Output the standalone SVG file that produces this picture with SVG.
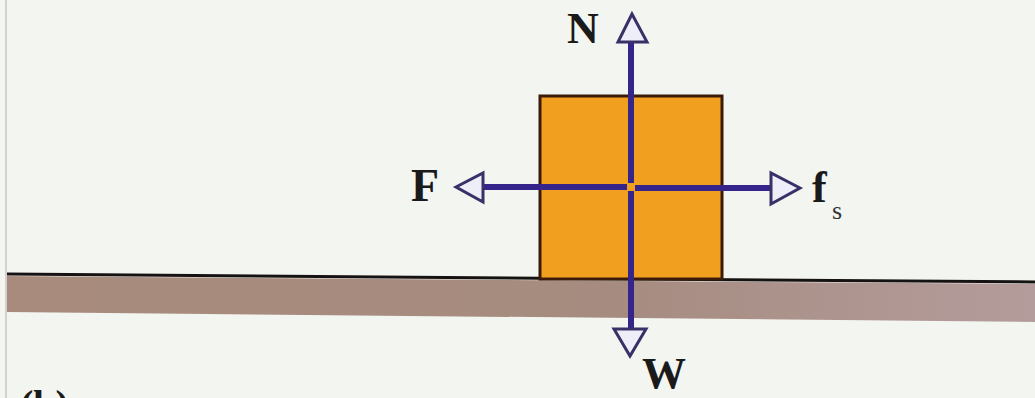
<svg xmlns="http://www.w3.org/2000/svg" width="1035" height="398" viewBox="0 0 1035 398">
  <defs>
    <linearGradient id="band" x1="0" y1="0" x2="1" y2="0">
      <stop offset="0" stop-color="#a88b7c"/>
      <stop offset="0.6" stop-color="#a68c80"/>
      <stop offset="1" stop-color="#b49c9c"/>
    </linearGradient>
  </defs>
  <style>
    .lbl { font-family: "Liberation Serif", "Times New Roman", serif; font-weight: bold; fill: #1a1a1a; }
    .sub { font-family: "Liberation Serif", "Times New Roman", serif; fill: #333333; }
    .shaft { stroke: #35248a; stroke-width: 6; fill: none; }
    .head { fill: #eeeef8; stroke: #3a3068; stroke-width: 3; stroke-linejoin: miter; }
  </style>
  <rect x="0" y="0" width="1035" height="398" fill="#f3f5f1"/>
  <line x1="6" y1="0" x2="6" y2="398" stroke="#c8c4c4" stroke-width="1.5"/>
  <g id="ground">
    <polygon points="7,276 1035,284 1035,322 7,312" fill="url(#band)"/>
    <line x1="7" y1="274" x2="1035" y2="282" stroke="#161212" stroke-width="3"/>
  </g>
  <g id="block">
    <rect x="540" y="96" width="182" height="183" fill="#f19f1e" stroke="#3a1a08" stroke-width="3"/>
  </g>
  <g id="connectors">
    <line class="shaft" x1="631" y1="42" x2="631" y2="183"/>
    <polygon class="head" points="632,14 618,42 647,42"/>
    <line class="shaft" x1="631" y1="191" x2="631" y2="329"/>
    <polygon class="head" points="614,329 646,329 630,356"/>
    <line class="shaft" x1="483" y1="187" x2="627" y2="187"/>
    <polygon class="head" points="456,187 483,173 483,202"/>
    <line class="shaft" x1="635" y1="188" x2="771" y2="188"/>
    <polygon class="head" points="800,188 771,173 771,204"/>
  </g>
  <g id="labels">
    <text class="lbl" x="567" y="43" font-size="44">N</text>
    <text class="lbl" x="411" y="201" font-size="46">F</text>
    <text class="lbl" x="812" y="202" font-size="44">f</text>
    <text class="sub" x="832" y="219" font-size="26">s</text>
    <text class="lbl" x="642" y="388" font-size="44">W</text>
    <text class="lbl" x="20" y="418" font-size="40">(b)</text>
  </g>
</svg>
